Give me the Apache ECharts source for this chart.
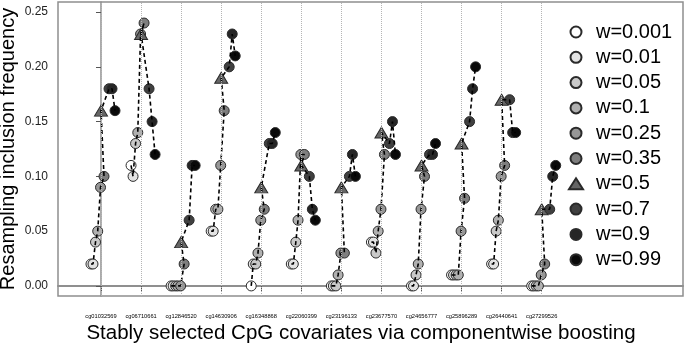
<!DOCTYPE html>
<html>
<head>
<meta charset="utf-8">
<script src="https://cdn.jsdelivr.net/npm/echarts@6/dist/echarts.min.js"></script>
<style>
  html, body { margin: 0; padding: 0; background: #fff; }
  #chart { width: 685px; height: 349px; }
</style>
</head>
<body>
<div id="chart"></div>
<script>
// CpG covariates (x categories)
var cpgNames = ['cg01032569', 'cg06710661', 'cg12846520', 'cg14630906', 'cg16348868', 'cg22060399',
                'cg23196133', 'cg23677570', 'cg24656777', 'cg25896289', 'cg26440641', 'cg27299526'];
// weights (legend)
var wLabels = ['w=0.001', 'w=0.01', 'w=0.05', 'w=0.1', 'w=0.25', 'w=0.35', 'w=0.5', 'w=0.7', 'w=0.9', 'w=0.99'];
// resampling inclusion frequency, one row per CpG, columns in wLabels order
var freq = [
  [0.02, 0.02, 0.04, 0.05, 0.09, 0.10, 0.16, 0.18, 0.18, 0.16],
  [0.11, 0.10, 0.13, 0.14, 0.23, 0.24, 0.23, 0.18, 0.15, 0.12],
  [0.00, 0.00, 0.00, 0.00, 0.00, 0.02, 0.04, 0.06, 0.11, 0.11],
  [0.05, 0.05, 0.07, 0.07, 0.11, 0.16, 0.19, 0.20, 0.23, 0.21],
  [0.00, 0.02, 0.02, 0.03, 0.06, 0.07, 0.09, 0.13, 0.13, 0.14],
  [0.02, 0.02, 0.04, 0.06, 0.12, 0.12, 0.11, 0.10, 0.07, 0.06],
  [0.00, 0.00, 0.00, 0.01, 0.03, 0.03, 0.09, 0.10, 0.12, 0.10],
  [0.04, 0.04, 0.03, 0.05, 0.07, 0.12, 0.14, 0.13, 0.15, 0.12],
  [0.00, 0.00, 0.01, 0.02, 0.07, 0.10, 0.11, 0.12, 0.12, 0.13],
  [0.01, 0.01, 0.01, 0.01, 0.05, 0.08, 0.13, 0.15, 0.18, 0.20],
  [0.02, 0.02, 0.05, 0.06, 0.10, 0.11, 0.17, 0.17, 0.14, 0.14],
  [0.00, 0.00, 0.00, 0.00, 0.01, 0.02, 0.07, 0.07, 0.10, 0.11]
];
var yTicks = [0, 0.05, 0.10, 0.15, 0.20, 0.25];

// styling per weight
var fills = ['#ffffff', '#e3e3e3', '#c9c9c9', '#b0b0b0', '#979797', '#7e7e7e', '#666666', '#404040', '#262626', '#0a0a0a'];
var shapes = ['circle', 'circle', 'circle', 'circle', 'circle', 'circle', 'triangle', 'circle', 'circle', 'circle'];
var dodge = [-0.25, -0.2, -0.137, -0.082, -0.012, 0.075, 0, 0.2, 0.275, 0.35];
var font = "'Liberation Sans', Arial, sans-serif";

var series = [];

// dotted guide lines at every CpG
series.push({
  type: 'scatter', data: [], z: 1, silent: true,
  markLine: {
    silent: true, symbol: 'none', animation: false,
    label: { show: false },
    lineStyle: { color: '#b5b5b5', type: 'dotted', width: 1 },
    data: cpgNames.map(function (c, i) { return { xAxis: i }; })
  }
});

for (var j = 0; j < wLabels.length; j++) {
  series.push({
    name: wLabels[j],
    type: 'scatter',
    symbol: shapes[j],
    symbolSize: shapes[j] === 'triangle' ? [13, 11] : 10,
    itemStyle: { color: fills[j], borderColor: '#2a2a2a', borderWidth: 1, opacity: 1 },
    z: 2,
    data: cpgNames.map(function (c, i) { return [i + dodge[j], freq[i][j]]; })
  });
}

// dashed lines joining the weights of one CpG
for (var i = 0; i < cpgNames.length; i++) {
  series.push({
    type: 'line',
    symbol: 'none',
    silent: true,
    z: 3,
    lineStyle: { color: '#000', width: 1.6, type: [4, 3] },
    data: freq[i].map(function (v, k) { return [i + dodge[k], v]; })
  });
}

var chart = echarts.init(document.getElementById('chart'));
chart.setOption({
  animation: false,
  textStyle: { fontFamily: font },
  grid: {
    left: 58, right: 2, top: 2, bottom: 53,
    outerBoundsMode: 'none', containLabel: false,
    show: true, borderColor: '#8f8f8f', borderWidth: 1.5
  },
  legend: {
    data: wLabels,
    orient: 'vertical',
    left: 563, top: 17,
    itemWidth: 14, itemHeight: 11, itemGap: 5.3,
    textStyle: { fontSize: 20, color: '#000', fontFamily: font, lineHeight: 20, padding: [0, 0, 0, 8] }
  },
  xAxis: {
    type: 'value',
    min: -1.0733, max: 14.527,
    splitLine: { show: false },
    axisLine: { show: true, lineStyle: { color: '#8f8f8f', width: 2 } },
    axisTick: { show: true, customValues: cpgNames.map(function (c, i) { return i; }), length: 6, lineStyle: { color: '#555' } },
    axisLabel: {
      customValues: cpgNames.map(function (c, i) { return i; }),
      formatter: function (v) { return cpgNames[Math.round(v)] || ''; },
      fontSize: 5.7, color: '#000', margin: 17
    }
  },
  yAxis: {
    type: 'value',
    min: -0.0092, max: 0.2592,
    name: 'Resampling inclusion frequency',
    nameLocation: 'middle',
    nameGap: 40,
    nameMoveOverlap: false,
    nameTextStyle: { fontSize: 20, color: '#000', fontFamily: font },
    splitLine: { show: false },
    axisLine: { show: true, lineStyle: { color: '#8f8f8f', width: 1.5 } },
    axisTick: { show: true, customValues: yTicks, length: 5, lineStyle: { color: '#555' } },
    axisLabel: {
      customValues: yTicks,
      formatter: function (v) { return v.toFixed(2); },
      fontSize: 12, color: '#222', margin: 10
    }
  },
  graphic: [{
    type: 'text', x: 361, y: 333,
    style: {
      text: 'Stably selected CpG covariates via componentwise boosting',
      font: "20.5px 'Liberation Sans', Arial, sans-serif",
      fill: '#000', textAlign: 'center', textVerticalAlign: 'middle'
    }
  }],
  series: series
});
</script>
</body>
</html>
